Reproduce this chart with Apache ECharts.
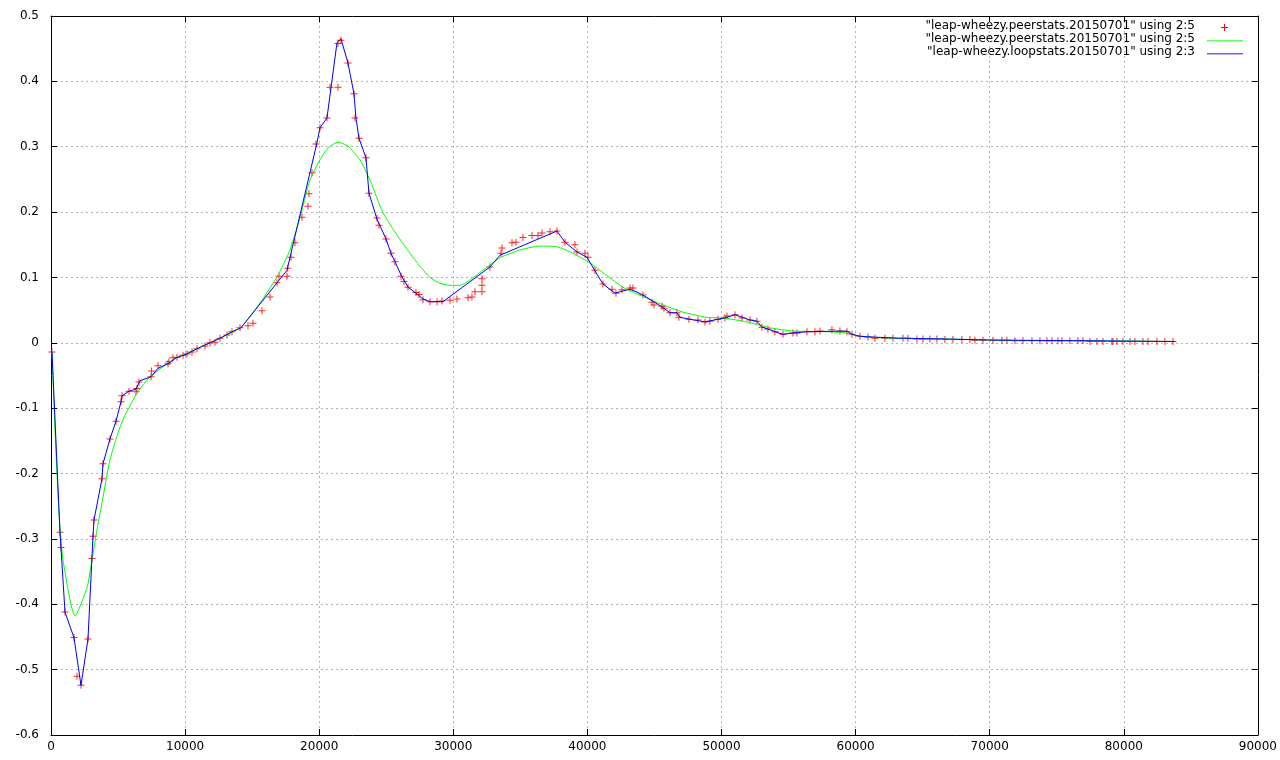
<!DOCTYPE html>
<html>
<head>
<meta charset="utf-8">
<script src="https://cdn.jsdelivr.net/npm/echarts@6/dist/echarts.min.js"></script>
<style>
html,body{margin:0;padding:0;background:#fff;}
#chart{width:1280px;height:760px;}
</style>
</head>
<body>
<div id="chart"></div>
<script>
// x axis ticks / y axis ticks
const xTicks = [0, 10000, 20000, 30000, 40000, 50000, 60000, 70000, 80000, 90000];
const yTicks = [-0.6, -0.5, -0.4, -0.3, -0.2, -0.1, 0, 0.1, 0.2, 0.3, 0.4, 0.5];

const seriesNames = [
  '"leap-wheezy.peerstats.20150701" using 2:5',
  '"leap-wheezy.peerstats.20150701" using 2:5',
  '"leap-wheezy.loopstats.20150701" using 2:3'
];

// peerstats points (column 2 vs column 5)
const peerX = [75,671,746,1044,1715,1939,2237,2759,3057,3132,3206,3803,3877,4399,4847,5220,5294,5816,6338,6413,6562,7457,7500,7979,8724,8799,9097,9395,9843,10141,10514,10886,11483,11856,12229,12602,13123,13496,14093,14689,15062,15733,16330,16852,17001,17598,17650,17896,18194,18716,19163,19238,19462,19760,20058,20580,20804,21401,21401,21624,22146,22593,22668,22966,23488,23712,24308,24457,24979,25352,25650,26098,26321,26620,27216,27440,27738,28260,28782,29155,29751,30273,31094,31392,31616,32138,32138,32138,32734,33555,33629,34375,34673,35195,35866,36313,36612,37208,37730,38327,39072,39221,39818,40042,40564,41160,41831,42129,42577,43173,43397,44142,44813,44963,45559,45708,46156,46678,46827,47573,48244,48766,49138,49735,50257,50406,51003,51525,52121,52643,53016,53463,53985,54582,55327,55625,56371,56968,57341,58235,58832,59354,59727,60323,60920,61441,62187,62784,63529,63902,64573,65021,65543,66065,66662,67257,67928,68525,68898,69495,70240,70912,71284,71881,72477,73149,73745,74267,74640,75087,75386,75982,76579,76952,77474,77996,78443,79114,79189,79487,79934,80456,80829,81426,81798,82469,83066,83663];
const peerY = [-0.014,-0.290,-0.313,-0.412,-0.451,-0.510,-0.524,-0.453,-0.330,-0.296,-0.271,-0.208,-0.185,-0.147,-0.120,-0.090,-0.081,-0.074,-0.075,-0.070,-0.060,-0.052,-0.043,-0.035,-0.032,-0.029,-0.023,-0.022,-0.019,-0.017,-0.014,-0.009,-0.005,0.000,0.001,0.007,0.012,0.017,0.023,0.026,0.030,0.049,0.070,0.092,0.102,0.102,0.114,0.131,0.153,0.192,0.209,0.228,0.260,0.304,0.329,0.344,0.391,0.391,0.458,0.463,0.428,0.381,0.344,0.313,0.283,0.229,0.191,0.180,0.159,0.137,0.124,0.102,0.094,0.085,0.077,0.074,0.066,0.063,0.063,0.064,0.065,0.067,0.069,0.070,0.078,0.078,0.088,0.098,0.116,0.137,0.145,0.153,0.154,0.161,0.164,0.164,0.168,0.170,0.171,0.154,0.150,0.139,0.137,0.131,0.111,0.090,0.082,0.076,0.081,0.084,0.084,0.073,0.062,0.058,0.056,0.053,0.046,0.046,0.039,0.036,0.035,0.032,0.033,0.036,0.038,0.041,0.043,0.038,0.035,0.033,0.024,0.021,0.017,0.013,0.015,0.015,0.017,0.017,0.018,0.020,0.018,0.017,0.013,0.010,0.009,0.007,0.007,0.007,0.007,0.007,0.006,0.006,0.006,0.006,0.005,0.005,0.005,0.005,0.004,0.004,0.004,0.004,0.004,0.003,0.003,0.003,0.003,0.003,0.003,0.003,0.003,0.003,0.003,0.003,0.002,0.002,0.002,0.002,0.002,0.002,0.002,0.002,0.002,0.002,0.002,0.002,0.002,0.002];

// smoothed peerstats curve
const smoothX = [75,298,597,895,1790,2684,3057,3430,3803,4399,5294,6413,7383,9097,10141,12602,14167,15584,16852,17821,18567,19313,20058,20655,21401,22146,23041,23786,24756,25800,26769,27515,28260,29006,29751,30497,31019,32213,33480,34971,36462,37730,38923,40191,40936,42651,43918,45634,47125,48915,50108,51898,53613,55327,57863,59354,60323,62784,66288,70762,78218,83810];
const smoothY = [-0.014,-0.133,-0.260,-0.332,-0.418,-0.375,-0.332,-0.286,-0.245,-0.179,-0.121,-0.077,-0.052,-0.026,-0.016,0.007,0.024,0.061,0.101,0.142,0.192,0.249,0.280,0.298,0.307,0.301,0.280,0.249,0.199,0.165,0.137,0.117,0.100,0.091,0.088,0.088,0.093,0.111,0.130,0.142,0.148,0.147,0.137,0.122,0.111,0.085,0.073,0.058,0.047,0.039,0.038,0.032,0.023,0.018,0.017,0.015,0.010,0.007,0.006,0.004,0.003,0.002];

// loopstats (column 2 vs column 3)
const loopX = [75,671,1044,1715,2237,2759,3132,3206,3803,3877,4399,4847,5220,5294,5816,6338,6636,7457,7979,8724,9321,10141,10886,11856,12602,13496,14167,17598,19834,20058,20580,21326,21624,22146,22593,22742,22966,23488,23712,24308,24979,25352,25650,26098,26620,27216,27738,28260,29229,32734,33480,37730,38327,39221,39967,40564,41160,42055,42577,43173,43546,44142,45559,46156,46678,46901,47647,48766,49735,50406,51003,52121,52643,53016,53613,53985,54582,55327,56371,59354,59727,60323,61069,63306,66288,70762,78218,83810];
const loopY = [-0.014,-0.290,-0.412,-0.451,-0.524,-0.453,-0.296,-0.271,-0.208,-0.185,-0.147,-0.120,-0.090,-0.081,-0.074,-0.071,-0.058,-0.052,-0.039,-0.032,-0.023,-0.017,-0.009,0.000,0.007,0.017,0.023,0.111,0.306,0.329,0.344,0.459,0.465,0.428,0.381,0.344,0.313,0.283,0.229,0.189,0.159,0.137,0.124,0.104,0.085,0.076,0.067,0.063,0.063,0.116,0.134,0.171,0.154,0.139,0.131,0.110,0.090,0.076,0.079,0.082,0.079,0.073,0.055,0.046,0.046,0.039,0.036,0.032,0.036,0.039,0.043,0.035,0.033,0.024,0.020,0.017,0.013,0.015,0.017,0.018,0.013,0.010,0.009,0.007,0.006,0.004,0.003,0.002];

const zip = (xs, ys) => xs.map((x, i) => [x, ys[i]]);

const FONT = 'DejaVu Sans';
const plusPath = 'path://M3,0h1v7h-1z M0,3h7v1h-7z';
const gridLine = { show: true, lineStyle: { color: '#b4b4b4', width: 1, type: [2, 3] } };
const border = { show: true, onZero: false, lineStyle: { color: '#000', width: 1 } };
const tickIn = { show: true, inside: true, length: 6, lineStyle: { color: '#000', width: 1 } };
const fmtY = v => String(Math.round(v * 10) / 10);
const fmtX = v => String(Math.round(v));

const chart = echarts.init(document.getElementById('chart'), null, { renderer: 'canvas' });
chart.setOption({
  backgroundColor: '#ffffff',
  animation: false,
  grid: { left: 51, right: 22, top: 16, bottom: 25, containLabel: false },
  xAxis: [
    {
      type: 'value', min: xTicks[0], max: xTicks[xTicks.length - 1], interval: 10000,
      position: 'bottom',
      axisLine: border, axisTick: tickIn, splitLine: gridLine,
      axisLabel: { color: '#000', fontFamily: FONT, fontSize: 12, margin: 6, formatter: fmtX }
    },
    {
      type: 'value', min: xTicks[0], max: xTicks[xTicks.length - 1], interval: 10000,
      position: 'top',
      axisLine: border, axisTick: tickIn, splitLine: { show: false },
      axisLabel: { show: false }
    }
  ],
  yAxis: [
    {
      type: 'value', min: yTicks[0], max: yTicks[yTicks.length - 1], interval: 0.1,
      position: 'left',
      axisLine: border, axisTick: tickIn, splitLine: gridLine,
      axisLabel: { color: '#000', fontFamily: FONT, fontSize: 12, margin: 12, formatter: fmtY }
    },
    {
      type: 'value', min: yTicks[0], max: yTicks[yTicks.length - 1], interval: 0.1,
      position: 'right',
      axisLine: border, axisTick: tickIn, splitLine: { show: false },
      axisLabel: { show: false }
    }
  ],
  series: [
    {
      name: seriesNames[0], type: 'scatter', data: zip(peerX, peerY),
      symbol: plusPath, symbolSize: 7,
      itemStyle: { color: '#ff0000', opacity: 0.85 }, z: 2
    },
    {
      name: seriesNames[1], type: 'line', data: zip(smoothX, smoothY),
      showSymbol: false, symbol: 'none', smooth: 0.2,
      lineStyle: { color: '#00ff00', width: 1 }, z: 3
    },
    {
      name: seriesNames[2], type: 'line', data: zip(loopX, loopY),
      showSymbol: false, symbol: 'none',
      lineStyle: { color: '#0000ff', width: 1 }, z: 4
    }
  ],
  graphic: [
    { type: 'text', right: 1280 - 1195, top: 20, style: { text: seriesNames[0], font: '12px "DejaVu Sans"', fill: '#000', textAlign: 'right' } },
    { type: 'text', right: 1280 - 1195, top: 33, style: { text: seriesNames[1], font: '12px "DejaVu Sans"', fill: '#000', textAlign: 'right' } },
    { type: 'text', right: 1280 - 1195, top: 46, style: { text: seriesNames[2], font: '12px "DejaVu Sans"', fill: '#000', textAlign: 'right' } },
    { type: 'group', left: 1221, top: 24, children: [
      { type: 'rect', shape: { x: 3, y: 0, width: 1, height: 7 }, style: { fill: '#ff0000' } },
      { type: 'rect', shape: { x: 0, y: 3, width: 7, height: 1 }, style: { fill: '#ff0000' } }
    ] },
    { type: 'rect', shape: { x: 1207, y: 40, width: 36, height: 1.5 }, style: { fill: '#66ff66' } },
    { type: 'rect', shape: { x: 1207, y: 53, width: 36, height: 1.5 }, style: { fill: '#6666ff' } }
  ]
});
</script>
</body>
</html>
